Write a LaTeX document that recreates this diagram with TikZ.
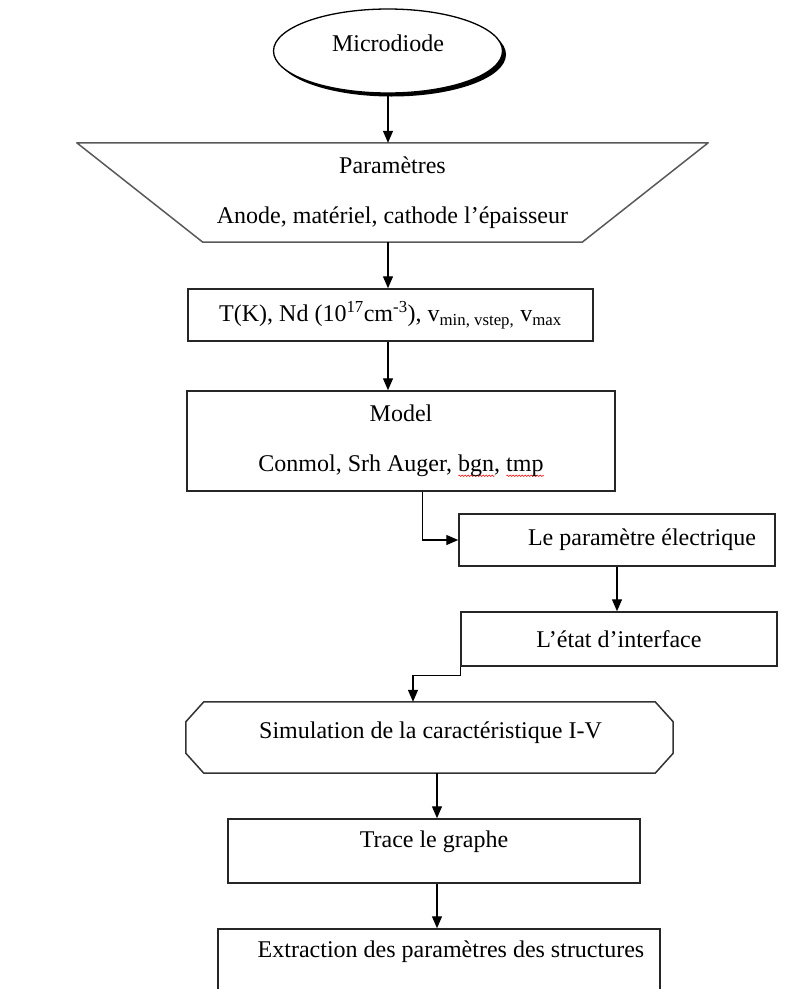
\documentclass[tikz,border=0pt]{standalone}
\usepackage{fontspec}
\setmainfont{Liberation Serif}
\usetikzlibrary{arrows.meta,shapes.geometric,shadows,calc,decorations.pathmorphing}

% red wavy underline (spell-check mark)
\newsavebox\spellbox
\newcommand\spell[1]{\sbox\spellbox{#1}\leavevmode\rlap{\raisebox{-4pt}{\tikz[baseline]\draw[red,line width=0.6pt,decorate,decoration={zigzag,amplitude=0.8pt,segment length=3pt}] (0pt,0pt) -- (\the\wd\spellbox,0pt);}}\usebox\spellbox}

\begin{document}
\begin{tikzpicture}[x=1pt,y=-1pt,
  font=\fontsize{24}{28}\selectfont,
  box/.style={draw=black!85, line width=1.5pt, fill=white, inner sep=0pt, align=center},
  outline/.style={draw=black!80, line width=1.5pt, line join=round},
  flow/.style={draw=black, line width=1.3pt, -{Triangle[length=12pt,width=10pt]}},
  ]
\useasboundingbox (0,0) rectangle (792,989);
\clip (0,0) rectangle (792,989);

% vertical guide positions of the connectors
\coordinate (spine) at (388,0);
\coordinate (simin) at (413,0);
\coordinate (lowx) at (437,0);

% start terminal
\node[ellipse, draw=black, line width=1.3pt, fill=white,
  minimum width=229pt, minimum height=84pt, inner sep=0pt,
  drop shadow={shadow xshift=3.5pt, shadow yshift=-3.5pt, fill=black, opacity=1},
  label={[yshift=8pt]center:Microdiode}] (start) at (388,51) {};

% input parameters (inverted trapezium)
\node[inner sep=0pt, minimum width=379pt, minimum height=99pt, align=center]
  (par) at (392.5,192.5) {Paramètres\\[22pt]Anode, matériel, cathode l’épaisseur};
\draw[line width=1.5pt, draw=black!65, line join=round]
  ($(par.north west)+(-126,0)$) -- ($(par.north east)+(126,0)$)
  -- (par.south east) -- (par.south west) -- cycle;

% operating conditions
\node[box, minimum width=405pt, minimum height=52pt] (cond) at (390.5,315)
  {T(K), Nd (10\textsuperscript{17}cm\textsuperscript{-3}), v\textsubscript{min, vstep,} v\textsubscript{max}};

% physical models
\node[box, minimum width=428pt, minimum height=100pt] (model) at (401,441)
  {Model\\[22pt]Conmol, Srh Auger, \spell{bgn}, \spell{tmp}};

% electrical parameter
\node[box, minimum width=316pt, minimum height=52pt] (elec) at (617,540)
  {\hspace*{50pt}Le paramètre électrique};

% interface state
\node[box, minimum width=316pt, minimum height=54pt] (iface) at (619,639)
  {L’état d’interface};

% I-V simulation (octagonal block)
\node[inner sep=0pt, minimum width=487pt, minimum height=71pt,
  label={[xshift=1pt,yshift=5pt]center:Simulation de la caractéristique I-V}] (sim) at (429.5,737.5) {};
\draw[outline]
  ($(sim.north west)+(18,0)$) -- ($(sim.north east)+(-18,0)$)
  -- ($(sim.north east)+(0,20)$) -- ($(sim.south east)+(0,-20)$)
  -- ($(sim.south east)+(-18,0)$) -- ($(sim.south west)+(18,0)$)
  -- ($(sim.south west)+(0,-20)$) -- ($(sim.north west)+(0,20)$) -- cycle;

% plotting
\node[box, minimum width=412pt, minimum height=64pt,
  label={[yshift=9pt]center:Trace le graphe}] (trace) at (434,851) {};

% parameter extraction
\node[box, minimum width=442pt, minimum height=90pt,
  label={[xshift=12pt,yshift=22pt]center:Extraction des paramètres des structures}] (extr) at (439,974) {};

% connectors
\draw[flow] (start.south) -- (par.north -| spine);
\draw[flow] (par.south -| spine) -- (cond.north -| spine);
\draw[flow] (cond.south -| spine) -- (model.north -| spine);
\draw[flow] ($(model.south west)+(236,0)$) |- (elec.west);
\draw[flow] (elec.south) -- (elec.south |- iface.north);
\draw[flow] (iface.south west) -- ++(0,9) -| (sim.north -| simin);
\draw[flow] (sim.south -| lowx) -- (trace.north -| lowx);
\draw[flow] (trace.south -| lowx) -- (extr.north -| lowx);
\end{tikzpicture}
\end{document}
